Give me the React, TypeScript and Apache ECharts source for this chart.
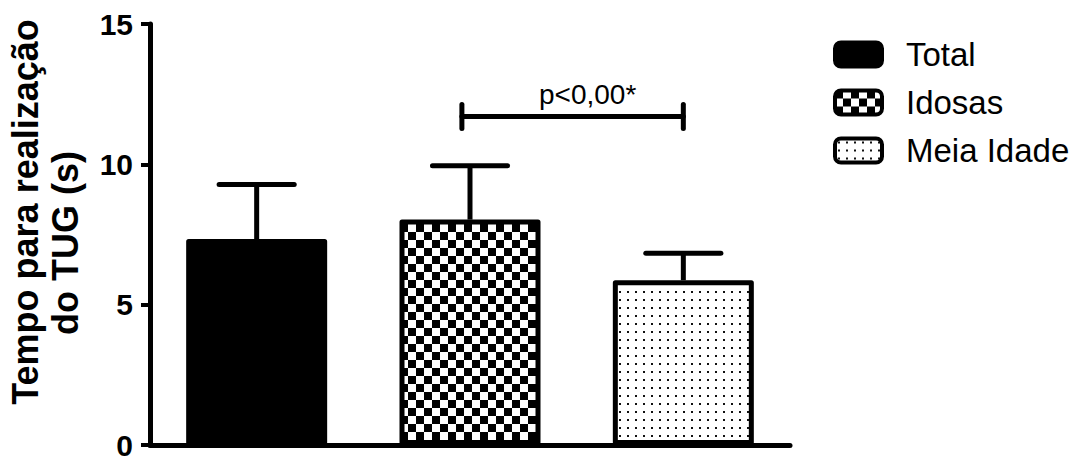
import React, { useEffect, useRef } from "react";
import * as echarts from "echarts";

const categories = ["Total", "Idosas", "Meia Idade"];
const means = [7.34, 8.03, 5.87];
const sds = [1.94, 1.92, 0.96];
const yMin = 0;
const yMax = 15;
const yInterval = 5;
const yTitleLines = ["Tempo para realização", "do TUG (s)"];
const bracketPair = [1, 2];
const bracketLevel = 11.7;
const bracketLabel = "p<0,00*";

const FONT = "'Liberation Sans', Arial, Helvetica, sans-serif";

function makeChecker(): HTMLCanvasElement {
  const c = document.createElement("canvas");
  c.width = 16;
  c.height = 16;
  const g = c.getContext("2d")!;
  g.fillStyle = "#fff";
  g.fillRect(0, 0, 16, 16);
  g.fillStyle = "#000";
  g.fillRect(0, 0, 8, 8);
  g.fillRect(8, 8, 8, 8);
  return c;
}

function makeDots(): HTMLCanvasElement {
  const c = document.createElement("canvas");
  c.width = 8;
  c.height = 8;
  const g = c.getContext("2d")!;
  g.fillStyle = "#fff";
  g.fillRect(0, 0, 8, 8);
  g.fillStyle = "#111";
  g.fillRect(3, 3, 2, 2);
  return c;
}

export default function App() {
  const ref = useRef<HTMLDivElement>(null);

  useEffect(() => {
    document.body.style.margin = "0";
    const chart = echarts.init(ref.current!, null, { renderer: "svg" });
    const fills: any[] = [
      "#000",
      { image: makeChecker(), repeat: "repeat" },
      { image: makeDots(), repeat: "repeat" },
    ];

    const barSeries = categories.map((name, k) => ({
      name,
      type: "bar",
      barWidth: 141,
      barGap: "-100%",
      data: means.map((v, i) => (i === k ? v : "-")),
      itemStyle: {
        color: fills[k],
        borderColor: "#000",
        borderWidth: 5,
        borderJoin: "round",
      },
      z: 2,
    }));

    const option: any = {
      animation: false,
      backgroundColor: "#fff",
      grid: { left: 150, right: 287, top: 24, bottom: 14, containLabel: false },
      legend: {
        data: categories,
        orient: "vertical",
        left: 833,
        top: 38,
        padding: 0,
        itemWidth: 47,
        itemHeight: 24,
        itemGap: 15,
        icon: "roundRect",
        selectedMode: false,
        itemStyle: { borderColor: "#000", borderWidth: 4 },
        textStyle: {
          fontSize: 33,
          fontFamily: FONT,
          color: "#000",
          lineHeight: 24,
          padding: [0, 0, 0, 19],
        },
      },
      xAxis: {
        type: "category",
        data: categories,
        boundaryGap: true,
        axisLine: { lineStyle: { color: "#000", width: 5 } },
        axisTick: {
          alignWithLabel: true,
          length: 11,
          lineStyle: { color: "#000", width: 4 },
        },
        axisLabel: { show: false },
        splitLine: { show: false },
      },
      yAxis: {
        type: "value",
        min: yMin,
        max: yMax,
        interval: yInterval,
        axisLine: { show: true, lineStyle: { color: "#000", width: 5 } },
        axisTick: { show: true, length: 9, lineStyle: { color: "#000", width: 4 } },
        axisLabel: {
          margin: 17,
          fontSize: 30,
          fontWeight: "bold",
          fontFamily: FONT,
          color: "#000",
        },
        splitLine: { show: false },
      },
      graphic: [
        {
          type: "text",
          x: 25,
          y: 212,
          rotation: Math.PI / 2,
          style: {
            text: yTitleLines[0],
            fontSize: 36,
            fontWeight: "bold",
            fontFamily: FONT,
            fill: "#000",
            align: "center",
            verticalAlign: "middle",
          },
        },
        {
          type: "text",
          x: 65,
          y: 243,
          rotation: Math.PI / 2,
          style: {
            text: yTitleLines[1],
            fontSize: 36,
            fontWeight: "bold",
            fontFamily: FONT,
            fill: "#000",
            align: "center",
            verticalAlign: "middle",
          },
        },
      ],
      series: [
        ...barSeries,
        {
          type: "custom",
          name: "err",
          z: 5,
          data: means.map((m, i) => [i, m, m + sds[i]]),
          encode: { x: 0, y: [1, 2] },
          renderItem: (params: any, api: any) => {
            const i = api.value(0);
            const base = api.coord([i, api.value(1)]);
            const top = api.coord([i, api.value(2)]);
            const half = api.size([1, 0])[0] * 0.176;
            return {
              type: "group",
              children: [
                {
                  type: "line",
                  shape: { x1: base[0], y1: base[1], x2: top[0], y2: top[1] },
                  style: { stroke: "#000", lineWidth: 5 },
                },
                {
                  type: "line",
                  shape: { x1: top[0] - half, y1: top[1], x2: top[0] + half, y2: top[1] },
                  style: { stroke: "#000", lineWidth: 5, lineCap: "round" },
                },
              ],
            };
          },
        },
        {
          type: "custom",
          name: "bracket",
          z: 5,
          data: [[bracketPair[0], bracketPair[1], bracketLevel]],
          encode: { x: [0, 1], y: 2 },
          renderItem: (params: any, api: any) => {
            const a = api.coord([api.value(0), api.value(2)]);
            const b = api.coord([api.value(1), api.value(2)]);
            const band = api.size([1, 0])[0];
            const x1 = a[0] - band * 0.038;
            const x2 = b[0];
            const y = a[1];
            const h = 12;
            const st = { stroke: "#000", lineWidth: 5, lineCap: "round" };
            return {
              type: "group",
              children: [
                { type: "line", shape: { x1, y1: y, x2, y2: y }, style: st },
                { type: "line", shape: { x1, y1: y - h, x2: x1, y2: y + h }, style: st },
                { type: "line", shape: { x1: x2, y1: y - h, x2, y2: y + h }, style: st },
                {
                  type: "text",
                  x: (x1 + x2) / 2 + 15,
                  y: y - 22,
                  style: {
                    text: bracketLabel,
                    fontSize: 28,
                    fontFamily: FONT,
                    fill: "#000",
                    align: "center",
                    verticalAlign: "middle",
                  },
                },
              ],
            };
          },
        },
      ],
    };
    chart.setOption(option);
    return () => chart.dispose();
  }, []);

  return (
    <div
      ref={ref}
      style={{ position: "fixed", left: 0, top: 0, width: 1077, height: 460 }}
    />
  );
}
